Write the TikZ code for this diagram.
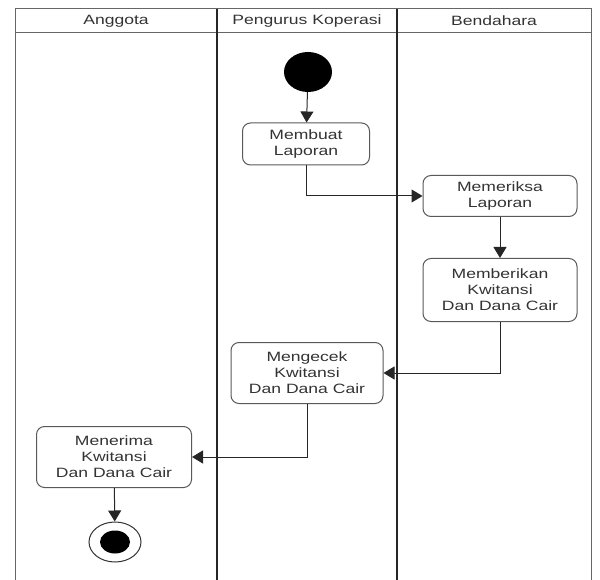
\documentclass[tikz,border=0pt]{standalone}
\usepackage{fontspec}
\setmainfont[FakeStretch=1.3]{Liberation Sans}
\usetikzlibrary{arrows.meta,shapes.geometric}

\begin{document}
\begin{tikzpicture}[ x=1pt, y=-1pt,
	teks/.style={ text=black!80, font=\fontsize{13.5}{16}\selectfont },
	aksi/.style={ teks, draw=black!65, line width=1pt, rounded corners=8pt,
		align=center, inner sep=2pt },
	alur/.style={ -{Triangle[width=13pt,length=11pt]}, line width=1pt, draw=black!85 },
	lajur/.style={ line width=1pt, draw=black!60 } ]
	\useasboundingbox (0,0) rectangle (600,580);
	% swimlanes
	\draw [ lajur ] (15,580) -- (15,9) -- (591,9) -- (591,580);
	\draw [ lajur ] (15,33) -- (591,33);
	\draw [ line width=1.8pt, black!85 ] (217,9) -- (217,580);
	\draw [ line width=1.8pt, black!85 ] (397,9) -- (397,580);
	\node [ teks ] (a) at (116,21) { Anggota };
	\node [ teks ] (p) at (307,21) { Pengurus Koperasi };
	\node [ teks ] (b) at (494,21) { Bendahara };
	% activities
	\node [ ellipse, fill=black, minimum width=48pt, minimum height=40pt,
		inner sep=0pt ] (0) at (308,72) {};
	\node [ aksi, minimum width=127pt, minimum height=42pt ] (1) at (306,144)
	{ Membuat\\Laporan };
	\node [ aksi, minimum width=154pt, minimum height=41pt ] (2) at (500,196)
	{ Memeriksa\\Laporan };
	\node [ aksi, minimum width=154pt, minimum height=63pt ] (3) at (500,290)
	{ Memberikan\\Kwitansi\\Dan Dana Cair };
	\node [ aksi, minimum width=152pt, minimum height=61pt ] (4) at (307,373)
	{ Mengecek\\Kwitansi\\Dan Dana Cair };
	\node [ aksi, minimum width=155pt, minimum height=61pt ] (5) at (114,457)
	{ Menerima\\Kwitansi\\Dan Dana Cair };
	\node [ ellipse, draw=black!80, line width=1pt, minimum width=52pt,
		minimum height=40pt, inner sep=0pt,
		path picture={ \fill [ black ] (path picture bounding box.center)
			ellipse (15pt and 11.5pt); } ] (6) at (115,542) {};
	% flows
	\draw [ alur ] (0) -- (1);
	\draw [ alur ] (1) |- (2);
	\draw [ alur ] (2) -- (3);
	\draw [ alur ] (3) |- (4);
	\draw [ alur ] (4) |- (5);
	\draw [ alur ] (5) -- (6);
\end{tikzpicture}
\end{document}
